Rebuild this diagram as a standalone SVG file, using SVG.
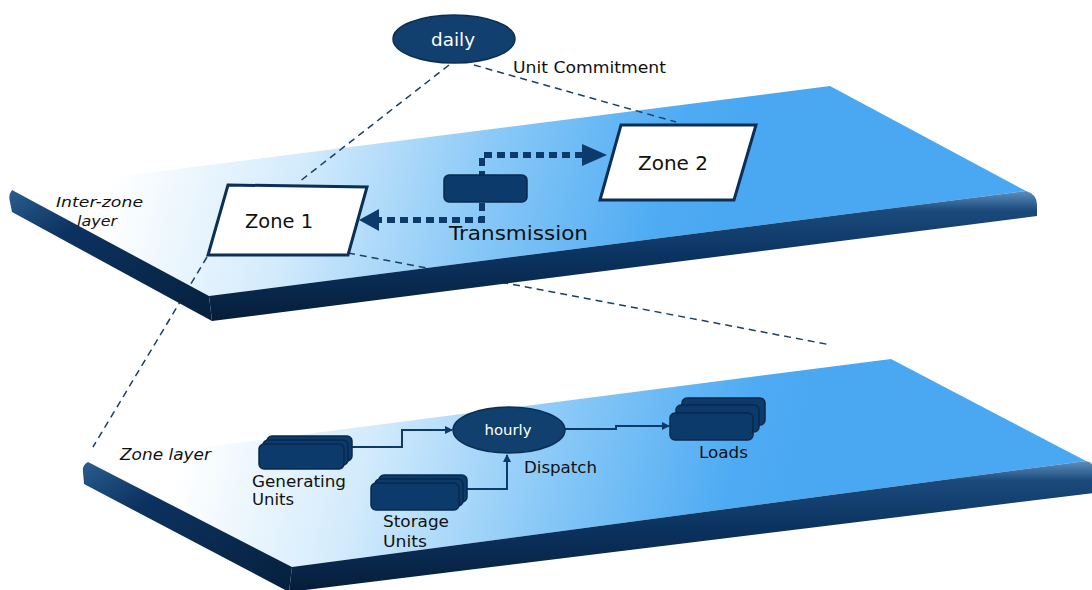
<svg xmlns="http://www.w3.org/2000/svg" width="1092" height="590" viewBox="0 0 1092 590">
<defs>
<linearGradient id="topU" gradientUnits="userSpaceOnUse" x1="120" y1="150" x2="700" y2="300">
<stop offset="0" stop-color="#ffffff"/>
<stop offset="0.3" stop-color="#d3ebfc"/>
<stop offset="0.62" stop-color="#86c7f7"/>
<stop offset="0.9" stop-color="#4eabf3"/>
<stop offset="1" stop-color="#4aa8f2"/>
</linearGradient>
<linearGradient id="topL" gradientUnits="userSpaceOnUse" x1="190" y1="420" x2="770" y2="570">
<stop offset="0" stop-color="#ffffff"/>
<stop offset="0.3" stop-color="#d3ebfc"/>
<stop offset="0.62" stop-color="#86c7f7"/>
<stop offset="0.9" stop-color="#4eabf3"/>
<stop offset="1" stop-color="#4aa8f2"/>
</linearGradient>
<linearGradient id="edge" x1="0" y1="0" x2="0" y2="1">
<stop offset="0" stop-color="#5f8fbd"/>
<stop offset="0.15" stop-color="#1a4a7c"/>
<stop offset="0.5" stop-color="#0b3360"/>
<stop offset="1" stop-color="#061d39"/>
</linearGradient>
<linearGradient id="side" x1="0" y1="0" x2="1" y2="1">
<stop offset="0" stop-color="#2a5d8f"/>
<stop offset="0.3" stop-color="#0c3260"/>
<stop offset="1" stop-color="#06203d"/>
</linearGradient>
<marker id="ah" markerWidth="8" markerHeight="8" refX="7" refY="4" orient="auto" markerUnits="userSpaceOnUse">
<path d="M0,0 L8,4 L0,8 Z" fill="#0b3a6b"/>
</marker>
<style>
.dash{fill:none;stroke:#1e3f60;stroke-width:1.5;stroke-dasharray:7 5}
.dot{fill:none;stroke:#0b3a6b;stroke-width:6;stroke-dasharray:8 5}
.zone{fill:#ffffff;stroke:#0b2f55;stroke-width:3;stroke-linejoin:miter}
.box{fill:#0b3a6b;stroke:#072a4d;stroke-width:1.5}
.conn{fill:none;stroke:#0b3a6b;stroke-width:2}
.ell{fill:#113f6e;stroke:#0a2f55;stroke-width:1.5}
.t{font-family:"DejaVu Sans","Liberation Sans",sans-serif;fill:#111111}
.w{font-family:"DejaVu Sans","Liberation Sans",sans-serif;fill:#ffffff}
.i{font-style:italic}
</style>
</defs>

<g id="upper-slab">
<path d="M12,190 L830,86 L1026,191 L209,296 Z" fill="url(#topU)"/>
</g>
<g id="lower-slab">
<path d="M88,462 L891,359 L1086,461 L292,567 Z" fill="url(#topL)"/>
<path d="M292,567 L1086,461 Q1094,463 1094,470 L1094,493 L289,592 Z" fill="url(#edge)"/>
<path d="M88,462 Q82,465 83,472 L84,484 L289,592 L292,567 Z" fill="url(#side)"/>
</g>

<g id="connectors">
<line class="dash" x1="449" y1="65" x2="299" y2="182"/>
<line class="dash" x1="474" y1="65" x2="676" y2="122"/>
<line class="dash" x1="207" y1="257" x2="93" y2="447"/>
<line class="dash" x1="348" y1="253" x2="831" y2="345"/>
</g>

<g id="upper-slab-edge">
<path d="M209,296 L1026,191 Q1037,194 1037,205 L1037,216 L212,321 Z" fill="url(#edge)"/>
<path d="M12,190 Q8,195 10,202 L12,212 L212,321 L209,296 Z" fill="url(#side)"/>
</g>

<g id="transmission-links">
<path class="dot" d="M583,155 L482,155 L482,175"/>
<path class="dot" d="M482,203 L482,220 L378,220"/>
<path d="M607,155 L582,144 L582,166 Z" fill="#0b3a6b"/>
<path d="M359,220 L379,209 L379,231 Z" fill="#0b3a6b"/>
</g>

<g id="lower-connectors">
<path class="conn" d="M352,447 L402,447 L402,430 L452,430" marker-end="url(#ah)"/>
<path class="conn" d="M467,489 L507,489 L507,455" marker-end="url(#ah)"/>
<path class="conn" d="M565,429 L616,429 L616,426 L669,426" marker-end="url(#ah)"/>
</g>

<g id="daily">
<ellipse class="ell" cx="454" cy="39" rx="61" ry="24"/>
<text class="w" x="453" y="46" font-size="17" text-anchor="middle" textLength="44" lengthAdjust="spacingAndGlyphs">daily</text>
</g>
<g id="unit-commitment">
<text class="t" x="513" y="73" font-size="15" textLength="153" lengthAdjust="spacingAndGlyphs">Unit Commitment</text>
</g>
<g id="inter-zone-label">
<text class="t i" x="56" y="207" font-size="14" textLength="87" lengthAdjust="spacingAndGlyphs">Inter-zone</text>
<text class="t i" x="77" y="226" font-size="14" textLength="40" lengthAdjust="spacingAndGlyphs">layer</text>
</g>
<g id="zone1">
<path class="zone" d="M228,185 L367,187 L348,255 L208,255 Z"/>
<text class="t" x="245" y="228" font-size="19" textLength="68" lengthAdjust="spacingAndGlyphs">Zone 1</text>
</g>
<g id="zone2">
<path class="zone" d="M621,125 L756,125 L734,200 L600,200 Z"/>
<text class="t" x="638" y="170" font-size="19" textLength="70" lengthAdjust="spacingAndGlyphs">Zone 2</text>
</g>
<g id="transmission">
<rect class="box" x="444" y="175" width="83" height="27" rx="5"/>
<text class="t" x="449" y="240" font-size="19" textLength="139" lengthAdjust="spacingAndGlyphs" fill="#0f1d2b">Transmission</text>
</g>
<g id="zone-layer-label">
<text class="t i" x="120" y="460" font-size="15" textLength="91" lengthAdjust="spacingAndGlyphs">Zone layer</text>
</g>
<g id="generating-units">
<rect class="box" x="267" y="436" width="85" height="25" rx="5"/>
<rect class="box" x="263" y="440" width="85" height="25" rx="5"/>
<rect class="box" x="259" y="444" width="85" height="25" rx="5"/>
<text class="t" x="252" y="487" font-size="16" textLength="94" lengthAdjust="spacingAndGlyphs">Generating</text>
<text class="t" x="252" y="505" font-size="16" textLength="42" lengthAdjust="spacingAndGlyphs">Units</text>
</g>
<g id="storage-units">
<rect class="box" x="379" y="475" width="88" height="27" rx="5"/>
<rect class="box" x="375" y="479" width="88" height="27" rx="5"/>
<rect class="box" x="371" y="483" width="88" height="27" rx="5"/>
<text class="t" x="383" y="527" font-size="16" textLength="66" lengthAdjust="spacingAndGlyphs">Storage</text>
<text class="t" x="383" y="547" font-size="16" textLength="44" lengthAdjust="spacingAndGlyphs">Units</text>
</g>
<g id="hourly">
<ellipse class="ell" cx="509" cy="430" rx="56" ry="23"/>
<text class="w" x="508" y="435" font-size="14" text-anchor="middle" textLength="47" lengthAdjust="spacingAndGlyphs">hourly</text>
<text class="t" x="524" y="473" font-size="16" textLength="73" lengthAdjust="spacingAndGlyphs">Dispatch</text>
</g>
<g id="loads">
<rect class="box" x="682" y="398" width="83" height="27" rx="5"/>
<rect class="box" x="676" y="405" width="83" height="27" rx="5"/>
<rect class="box" x="670" y="413" width="83" height="27" rx="5"/>
<text class="t" x="699" y="458" font-size="16" textLength="49" lengthAdjust="spacingAndGlyphs">Loads</text>
</g>
</svg>
